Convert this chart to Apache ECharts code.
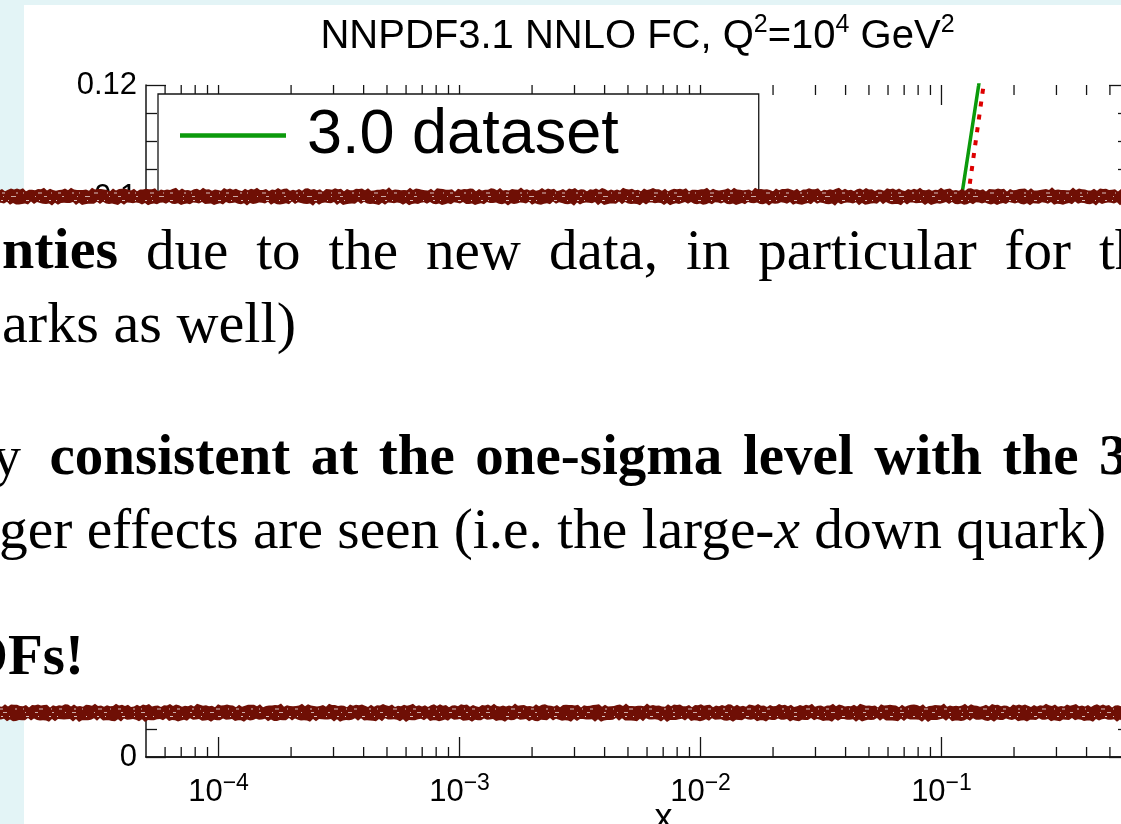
<!DOCTYPE html>
<html><head><meta charset="utf-8">
<script src="https://cdn.jsdelivr.net/npm/echarts@6/dist/echarts.min.js"></script>
<style>html,body{margin:0;padding:0;overflow:hidden;background:#fff}#c{width:1121px;height:824px}</style>
</head><body><div id="c"></div>
<script>
// ---------------- data ----------------
const seriesNames = ['3.0 dataset', '3.1 dataset'];
const xGreen = [5e-5, 1e-4, 1e-3, 1e-2, 0.03, 0.07, 0.1, 0.1224, 0.1426, 0.16];
const yGreen = [0.085, 0.06, 0.035, 0.022, 0.02, 0.035, 0.077, 0.1013, 0.1199, 0.135];
const xRed = [5e-5, 1e-4, 1e-3, 1e-2, 0.03, 0.07, 0.1, 0.1307, 0.149, 0.165];
const yRed = [0.08, 0.055, 0.03, 0.019, 0.017, 0.03, 0.065, 0.1020, 0.1195, 0.133];
const xMajorTicks = [1e-4, 1e-3, 1e-2, 1e-1];
const xMajorExponents = [-4, -3, -2, -1];
const xMinorTicks = [6e-5, 7e-5, 8e-5, 9e-5,
  2e-4, 3e-4, 4e-4, 5e-4, 6e-4, 7e-4, 8e-4, 9e-4,
  2e-3, 3e-3, 4e-3, 5e-3, 6e-3, 7e-3, 8e-3, 9e-3,
  2e-2, 3e-2, 4e-2, 5e-2, 6e-2, 7e-2, 8e-2, 9e-2,
  2e-1, 3e-1, 4e-1, 5e-1];
const xMin = 5e-5, xMax = 0.6;
const yMin = 0, yMax = 0.12, yStep = 0.02;

// ---------------- helpers ----------------
const SANS = '"Liberation Sans", Arial, Helvetica, sans-serif';
const SERIF = '"Liberation Serif", "Times New Roman", serif';
const AX = '#151515';
const pair = (xs, ys) => xs.map((x, i) => [x, ys[i]]);

const chart = echarts.init(document.getElementById('c'), null, {renderer: 'canvas', width: 1121, height: 824});

function xLabel(v) {
  const e = Math.log10(v);
  const r = Math.round(e);
  if (Math.abs(e - r) > 1e-6 || xMajorExponents.indexOf(r) < 0) return '';
  return '{b|10}{s|\u2212' + (-r) + '}';
}

// overlay text
const FS = 57;
const mctx = document.createElement('canvas').getContext('2d');
function fontStr(bold, italic) { return (italic ? 'italic ' : '') + (bold ? 'bold ' : '') + FS + 'px ' + SERIF; }
function tw(t, bold, italic) { mctx.font = fontStr(bold, italic); return mctx.measureText(t).width; }
function txt(text, x, baseline, bold, align, sx) {
  return {type: 'text', z: 120, x: x, y: baseline - 0.3375 * FS, scaleX: sx || 1,
    style: {text: text, font: fontStr(bold, false), fill: '#000', align: align || 'left', verticalAlign: 'middle'}};
}
function fitTxt(text, x0, x1, baseline, bold) {
  return txt(text, x0, baseline, bold, 'left', (x1 - x0) / tw(text, bold));
}
function justify(words, bold, startX, lastX, baseline) {
  const widths = words.map(w => tw(w, bold));
  const total = widths.reduce((a, b) => a + b, 0);
  const gap = (lastX - startX - total) / (words.length + 1);
  const out = [];
  let x = startX + gap;
  words.forEach((w, i) => { out.push(txt(w, x, baseline, bold, 'left')); x += widths[i] + gap; });
  return out;
}
function band(yTop, yBot, seed) {
  const pts = [];
  for (let x = -4; x <= 1126; x += 3) {
    const i = x + seed * 17;
    pts.push([x, yTop + 0.9 * Math.sin(i * 0.91) + 0.7 * Math.sin(i * 0.237 + 1.3) + 0.6 * Math.sin(i * 2.71)]);
  }
  for (let x = 1126; x >= -4; x -= 3) {
    const i = x + seed * 29;
    pts.push([x, yBot + 0.9 * Math.sin(i * 0.77 + 2) + 0.8 * Math.sin(i * 0.193) + 0.6 * Math.sin(i * 3.13)]);
  }
  return pts;
}
function fleck(y, dash, off, op) {
  return {type: 'polyline', z: 111, shape: {points: [[-5, y], [1126, y]]},
    style: {stroke: '#ffffff', lineWidth: 1, lineDash: dash, lineDashOffset: off, opacity: op}};
}
const RED_DARK = '#6f0f05';

const line4a = 'ger effects are seen (i.e. the large-';
const line4b = 'x';
const line4c = ' down quark)';
const line4W = tw(line4a) + tw(line4b, false, true) + tw(line4c);

const overlay = [
  {type: 'rect', z: 105, shape: {x: 0, y: 193, width: 1121, height: 520}, style: {fill: '#ffffff'}},
  {type: 'polygon', z: 110, shape: {points: band(189.5, 203.5, 3)}, style: {fill: RED_DARK}},
  {type: 'polygon', z: 110, shape: {points: band(705.5, 720, 11)}, style: {fill: RED_DARK}},
  fleck(193, [1, 6, 3, 11, 2, 5, 1, 14, 4, 9], 0, 0.75),
  fleck(196.5, [2, 13, 1, 7, 5, 19, 1, 8, 3, 15], 7, 0.65),
  fleck(200.5, [1, 9, 2, 5, 1, 17, 3, 10], 4, 0.75),
  fleck(709, [1, 7, 3, 12, 2, 6, 1, 15, 4, 8], 3, 0.75),
  fleck(712.5, [2, 11, 1, 6, 4, 18, 1, 9, 3, 14], 12, 0.65),
  fleck(716.5, [1, 10, 2, 6, 1, 16, 3, 9], 5, 0.75),
  // line 1
  fitTxt('nties', 2, 118, 273, true),
  ...justify(['due', 'to', 'the', 'new', 'data,', 'in', 'particular', 'for'], false, 118, 1099, 273),
  txt('the', 1099, 273, false, 'left'),
  // line 2
  fitTxt('arks as well)', 2, 296, 346, false),
  // line 3
  txt('y', 21, 479, false, 'right'),
  ...justify(['consistent', 'at', 'the', 'one-sigma', 'level', 'with', 'the'], true, 29, 1099, 479),
  txt('3.0', 1099, 479, true, 'left'),
  // line 4
  {type: 'text', z: 120, x: -1, y: 552 - 0.3375 * FS, scaleX: 1107 / line4W,
    style: {text: '{r|' + line4a + '}{i|' + line4b + '}{r|' + line4c + '}', align: 'left', verticalAlign: 'middle',
      rich: {r: {fontSize: FS, fontFamily: SERIF, fill: '#000', color: '#000'},
             i: {fontSize: FS, fontFamily: SERIF, fontStyle: 'italic', fill: '#000', color: '#000'}}}},
  // line 5
  txt('PDFs!', 84, 679, true, 'right')
];

const graphics = [
  {type: 'rect', z: -100, shape: {x: 24, y: 5, width: 1097, height: 819}, style: {fill: '#ffffff'}},
  {type: 'text', z: 10, x: 637.5, y: 36.5,
    style: {text: '{a|NNPDF3.1 NNLO FC, Q}{s|2}{a|=10}{s|4}{a| GeV}{s|2}', align: 'center', verticalAlign: 'middle',
      rich: {a: {fontSize: 40, lineHeight: 48, fontFamily: SANS, color: '#000'},
             s: {fontSize: 25, lineHeight: 22, verticalAlign: 'top', fontFamily: SANS, color: '#000'}}}},
  ...overlay
];

const axisLine = {show: true, lineStyle: {color: AX, width: 1.5}};
const yAxisBase = {type: 'value', min: yMin, max: yMax, interval: yStep, gridIndex: 0,
  axisLine: axisLine, splitLine: {show: false},
  axisTick: {show: true, inside: true, length: 20, lineStyle: {color: AX, width: 1.3}},
  minorTick: {show: true, splitNumber: 4, length: 11, lineStyle: {color: AX, width: 1.3}}};
const xAxisBase = {type: 'log', logBase: 10, min: xMin, max: xMax, gridIndex: 0,
  axisLine: axisLine, splitLine: {show: false}, minorTick: {show: false},
  axisTick: {show: false}};

function tickSeries(name, values, len) {
  return {name: name, type: 'custom', xAxisIndex: 0, yAxisIndex: 0, silent: true, z: 1,
    data: values.map(v => [v, yMin]),
    renderItem: function (params, api) {
      const v = api.value(0);
      const b = api.coord([v, yMin]);
      const t = api.coord([v, yMax]);
      const st = {stroke: AX, lineWidth: 1.3};
      return {type: 'group', children: [
        {type: 'line', shape: {x1: b[0], y1: b[1], x2: b[0], y2: b[1] - len}, style: st},
        {type: 'line', shape: {x1: t[0], y1: t[1], x2: t[0], y2: t[1] + len}, style: st}
      ]};
    }};
}

const option = {
  backgroundColor: '#e3f4f6',
  animation: false,
  textStyle: {fontFamily: SANS},
  grid: {left: 146, top: 85, width: 983, height: 672, outerBoundsMode: 'none', containLabel: false},
  legend: {
    data: seriesNames, orient: 'vertical', left: 158, top: 94, icon: 'rect',
    padding: [10, 140, 10, 22], itemGap: 40, itemWidth: 106, itemHeight: 4.5,
    backgroundColor: '#ffffff', borderColor: AX, borderWidth: 1.3, borderRadius: 0,
    textStyle: {fontSize: 63, fontFamily: SANS, color: '#000', padding: [0, 0, 0, 16]}
  },
  xAxis: [
    Object.assign({}, xAxisBase, {position: 'bottom', name: 'x', nameLocation: 'middle', nameGap: 44,
      nameMoveOverlap: false,
      nameTextStyle: {fontSize: 36, color: '#000', fontFamily: SANS, padding: [0, 0, 0, 52]},
      axisLabel: {show: true, margin: 15, formatter: xLabel, color: '#000',
        rich: {b: {fontSize: 31, lineHeight: 40, fontFamily: SANS, color: '#000'},
               s: {fontSize: 23, lineHeight: 24, verticalAlign: 'top', fontFamily: SANS, color: '#000'}}}}),
    Object.assign({}, xAxisBase, {position: 'top', axisLabel: {show: false}})
  ],
  yAxis: [
    Object.assign({}, yAxisBase, {position: 'left',
      axisLabel: {show: true, margin: 9, fontSize: 31, color: '#000', fontFamily: SANS}}),
    Object.assign({}, yAxisBase, {position: 'right', axisLabel: {show: false}})
  ],
  series: [
    {name: seriesNames[0], type: 'line', xAxisIndex: 0, yAxisIndex: 0, data: pair(xGreen, yGreen),
      symbol: 'none', smooth: false, clip: true, color: '#0b9a0b',
      lineStyle: {color: '#0b9a0b', width: 3.5}},
    {name: seriesNames[1], type: 'line', xAxisIndex: 0, yAxisIndex: 0, data: pair(xRed, yRed),
      symbol: 'none', smooth: false, clip: true, color: '#dd0000',
      lineStyle: {color: '#dd0000', width: 4, type: [5, 8], cap: 'butt'}},
    tickSeries('xMinorTicks', xMinorTicks, 10),
    tickSeries('xMajorTicks', xMajorTicks, 20)
  ],
  graphic: {elements: graphics}
};
chart.setOption(option);
</script></body></html>
